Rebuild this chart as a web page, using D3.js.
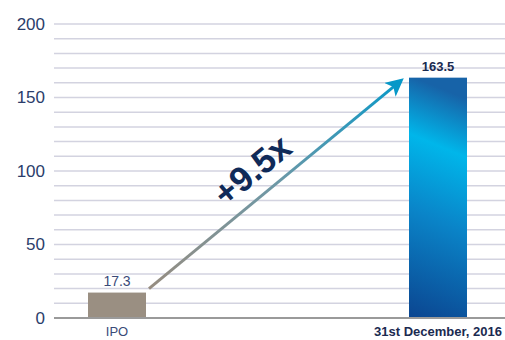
<!DOCTYPE html>
<meta charset="utf-8">
<script src="https://cdn.jsdelivr.net/npm/d3@7/dist/d3.min.js"></script>
<style>
body { margin: 0; background: #fff; }
text { font-family: "Liberation Sans", Arial, sans-serif; }
</style>
<body>
<script>

var categories = ["IPO", "31st December, 2016"];
var values = [17.3, 163.5];
var valueLabels = ["17.3", "163.5"];
var yTicks = [0, 50, 100, 150, 200];
var growthLabel = "+9.5x";

var width = 505,
    height = 340;

var margin = {left: 54, right: 0, top: 24, bottom: 22};

var svg = d3.select("body").append("svg")
    .attr("width", width)
    .attr("height", height);

var y = d3.scaleLinear()
    .domain([0, 200])
    .range([height - margin.bottom, margin.top]);

var x = d3.scalePoint()
    .domain(categories)
    .range([117, 438]);

var barWidth = 58;

var defs = svg.append("defs");

var blue = defs.append("linearGradient")
    .attr("id", "blueBar")
    .attr("x1", "0.1").attr("y1", "0")
    .attr("x2", "0").attr("y2", "1");
blue.append("stop").attr("offset", "0").attr("stop-color", "#1763a8");
blue.append("stop").attr("offset", "0.24").attr("stop-color", "#00b6ea");
blue.append("stop").attr("offset", "0.55").attr("stop-color", "#0a84c8");
blue.append("stop").attr("offset", "1").attr("stop-color", "#0b4590");

var arrowGrad = defs.append("linearGradient")
    .attr("id", "arrowGrad")
    .attr("gradientUnits", "userSpaceOnUse")
    .attr("x1", x(categories[0]) + barWidth / 2 + 3).attr("y1", y(values[0]) - 4)
    .attr("x2", x(categories[1]) - barWidth / 2 - 7).attr("y2", y(values[1]) + 2);
arrowGrad.append("stop").attr("offset", "0").attr("stop-color", "#968c80");
arrowGrad.append("stop").attr("offset", "0.5").attr("stop-color", "#6e98a6");
arrowGrad.append("stop").attr("offset", "1").attr("stop-color", "#0798c8");

defs.append("marker")
    .attr("id", "head")
    .attr("viewBox", "0 0 10 10")
    .attr("refX", 8).attr("refY", 5)
    .attr("markerWidth", 6).attr("markerHeight", 6)
    .attr("markerUnits", "strokeWidth")
    .attr("orient", "auto")
  .append("path")
    .attr("d", "M0,0 L10,5 L0,10 L2.5,5 Z")
    .attr("fill", "#0798c8");

// gridlines every 10
var grid = d3.range(10, 201, 10);
svg.append("g")
    .selectAll("line")
    .data(grid)
    .enter().append("line")
    .attr("x1", margin.left)
    .attr("x2", width)
    .attr("y1", function(d) { return y(d); })
    .attr("y2", function(d) { return y(d); })
    .style("stroke", "#d3d3e0")
    .style("stroke-width", 1.5);

// y axis
var yAxis = svg.append("g")
    .attr("transform", "translate(" + margin.left + ",0)")
    .call(d3.axisLeft(y).tickValues(yTicks).tickSize(0).tickPadding(9));
yAxis.select(".domain").remove();
yAxis.selectAll("text")
    .style("font-size", "17px")
    .style("fill", "#2b3d6b");

// bars
svg.append("g")
    .selectAll("rect")
    .data(values)
    .enter().append("rect")
    .attr("x", function(d, i) { return x(categories[i]) - barWidth / 2; })
    .attr("width", barWidth)
    .attr("y", function(d) { return y(d); })
    .attr("height", function(d) { return y(0) - y(d); })
    .style("fill", function(d, i) { return i === 0 ? "#9a8f82" : "url(#blueBar)"; });

// baseline
svg.append("line")
    .attr("x1", margin.left)
    .attr("x2", width)
    .attr("y1", y(0))
    .attr("y2", y(0))
    .style("stroke", "#9a9a9a")
    .style("stroke-width", 2);

// value labels
svg.append("g")
    .selectAll("text")
    .data(values)
    .enter().append("text")
    .attr("x", function(d, i) { return x(categories[i]); })
    .attr("y", function(d) { return y(d) - 7; })
    .attr("text-anchor", "middle")
    .style("font-size", function(d, i) { return i === 0 ? "14px" : "13px"; })
    .style("font-weight", function(d, i) { return i === 0 ? "normal" : "bold"; })
    .style("fill", function(d, i) { return i === 0 ? "#3a4a78" : "#1a2a50"; })
    .text(function(d, i) { return valueLabels[i]; });

// category labels
svg.append("g")
    .selectAll("text")
    .data(categories)
    .enter().append("text")
    .attr("x", function(d) { return x(d); })
    .attr("y", 336)
    .attr("text-anchor", "middle")
    .style("font-size", "13px")
    .style("font-weight", function(d, i) { return i === 0 ? "normal" : "bold"; })
    .style("fill", function(d, i) { return i === 0 ? "#3a4a78" : "#1a2a50"; })
    .text(function(d) { return d; });

// growth arrow
var x0 = x(categories[0]) + barWidth / 2 + 3,
    y0 = y(values[0]) - 4,
    x1 = x(categories[1]) - barWidth / 2 - 8,
    y1 = y(values[1]) + 3;

svg.append("line")
    .attr("x1", x0).attr("y1", y0)
    .attr("x2", x1).attr("y2", y1)
    .style("stroke", "url(#arrowGrad)")
    .style("stroke-width", 3)
    .attr("marker-end", "url(#head)");

var angle = Math.atan2(y1 - y0, x1 - x0) * 180 / Math.PI;
svg.append("text")
    .attr("transform", "translate(" + 252 + "," + 170 + ") rotate(" + angle + ")")
    .attr("text-anchor", "middle")
    .attr("dy", "0.35em")
    .style("font-size", "35px")
    .style("font-weight", "bold")
    .style("fill", "#102a58")
    .text(growthLabel);

</script>
</body>
